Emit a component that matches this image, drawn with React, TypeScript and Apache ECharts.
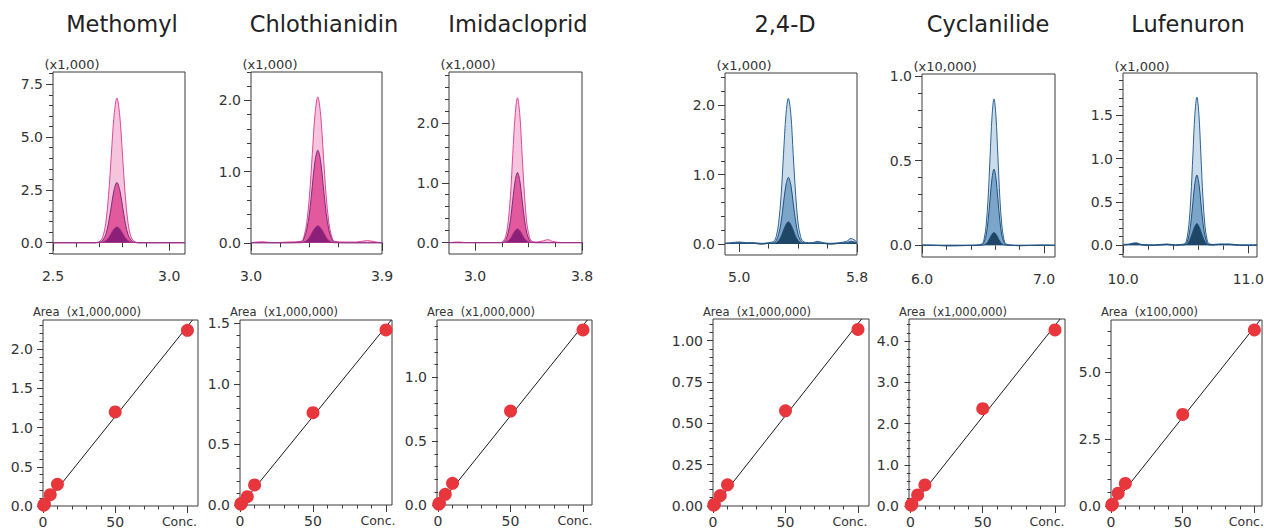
import React, { useEffect, useRef } from "react";
import * as echarts from "echarts";

// ---------------- DATA ----------------
const compounds = ["Methomyl", "Chlothianidin", "Imidacloprid", "2,4-D", "Cyclanilide", "Lufenuron"];

// Chromatograms: retention time (min) and intensity for three concentration levels
const methomylTime = [2.5, 2.6, 2.68, 2.703, 2.715, 2.727, 2.739, 2.751, 2.763, 2.775, 2.787, 2.799, 2.811, 2.823, 2.835, 2.847, 2.87, 2.95, 3.068];
const methomylHigh = [0, 0, 0, 0.08, 0.3, 0.92, 2.23, 4.16, 6.04, 6.85, 6.04, 4.16, 2.23, 0.92, 0.3, 0.08, 0, 0, 0];
const methomylMid = [0, 0, 0, 0.03, 0.13, 0.38, 0.93, 1.73, 2.51, 2.85, 2.51, 1.73, 0.93, 0.38, 0.13, 0.03, 0, 0, 0];
const methomylLow = [0, 0, 0, 0.01, 0.03, 0.1, 0.24, 0.46, 0.66, 0.75, 0.66, 0.46, 0.24, 0.1, 0.03, 0.01, 0, 0, 0];

const chlothianidinTime = [3.0, 3.08, 3.15, 3.25, 3.345, 3.364, 3.383, 3.402, 3.421, 3.44, 3.459, 3.478, 3.497, 3.516, 3.535, 3.554, 3.573, 3.65, 3.72, 3.8, 3.86, 3.9];
const chlothianidinHigh = [0, 0.015, 0, 0.01, 0.02, 0.09, 0.28, 0.67, 1.24, 1.81, 2.05, 1.81, 1.24, 0.67, 0.28, 0.09, 0.02, 0.01, 0.01, 0.03, 0.01, 0];
const chlothianidinMid = [0, 0, 0, 0, 0.01, 0.06, 0.18, 0.42, 0.79, 1.15, 1.3, 1.15, 0.79, 0.42, 0.18, 0.06, 0.01, 0, 0, 0, 0, 0];
const chlothianidinLow = [0, 0, 0, 0, 0, 0.01, 0.03, 0.08, 0.15, 0.21, 0.24, 0.21, 0.15, 0.08, 0.03, 0.01, 0, 0, 0, 0, 0, 0];

const imidaclopridTime = [2.805, 2.88, 2.93, 3.0, 3.1, 3.19, 3.212, 3.23, 3.247, 3.265, 3.282, 3.3, 3.317, 3.335, 3.352, 3.37, 3.387, 3.405, 3.422, 3.46, 3.51, 3.545, 3.58, 3.65, 3.8];
const imidaclopridHigh = [0, 0.01, 0, 0, 0, 0, 0.03, 0.11, 0.33, 0.79, 1.47, 2.13, 2.42, 2.13, 1.47, 0.79, 0.33, 0.11, 0.03, 0.01, 0.03, 0.05, 0.02, 0, 0];
const imidaclopridMid = [0, 0, 0, 0, 0, 0, 0.01, 0.05, 0.16, 0.38, 0.71, 1.03, 1.17, 1.03, 0.71, 0.38, 0.16, 0.05, 0.01, 0, 0, 0, 0, 0, 0];
const imidaclopridLow = [0, 0, 0, 0, 0, 0, 0, 0.01, 0.03, 0.07, 0.14, 0.2, 0.23, 0.2, 0.14, 0.07, 0.03, 0.01, 0, 0, 0, 0, 0, 0, 0];

const dTime = [4.904, 4.95, 5.0, 5.05, 5.1, 5.15, 5.2, 5.235, 5.252, 5.268, 5.285, 5.301, 5.318, 5.334, 5.351, 5.367, 5.384, 5.4, 5.417, 5.433, 5.47, 5.5, 5.53, 5.57, 5.62, 5.68, 5.73, 5.76, 5.78, 5.8];
const dHigh = [0.01, 0.02, 0.03, 0.02, 0.02, 0.01, 0.02, 0.04, 0.11, 0.3, 0.7, 1.29, 1.87, 2.1, 1.87, 1.29, 0.7, 0.3, 0.11, 0.04, 0.02, 0.02, 0.04, 0.02, 0.01, 0.02, 0.04, 0.08, 0.06, 0.03];
const dMid = [0.01, 0.01, 0.02, 0.01, 0.01, 0, 0.01, 0.02, 0.05, 0.14, 0.32, 0.59, 0.85, 0.96, 0.85, 0.59, 0.32, 0.14, 0.05, 0.02, 0.01, 0.01, 0.02, 0.01, 0, 0.01, 0.02, 0.04, 0.03, 0.02];
const dLow = [0.01, 0.01, 0.01, 0.01, 0.01, 0, 0.01, 0.01, 0.02, 0.05, 0.11, 0.2, 0.28, 0.32, 0.28, 0.2, 0.11, 0.05, 0.02, 0.01, 0.01, 0.01, 0.01, 0.01, 0, 0.01, 0.01, 0.02, 0.02, 0.01];

const cyclanilideTime = [6.0, 6.05, 6.12, 6.2, 6.3, 6.4, 6.45, 6.494, 6.51, 6.526, 6.542, 6.558, 6.574, 6.59, 6.606, 6.622, 6.638, 6.654, 6.67, 6.686, 6.73, 6.8, 6.9, 7.0, 7.09];
const cyclanilideHigh = [0.003, 0.002, 0, -0.004, -0.003, 0, 0.002, 0.01, 0.04, 0.12, 0.28, 0.525, 0.763, 0.865, 0.763, 0.525, 0.28, 0.12, 0.04, 0.01, 0.002, -0.003, 0, 0.002, 0];
const cyclanilideMid = [0, 0, 0, 0, 0, 0, 0, 0.005, 0.02, 0.06, 0.146, 0.273, 0.397, 0.45, 0.397, 0.273, 0.146, 0.06, 0.02, 0.005, 0, 0, 0, 0, 0];
const cyclanilideLow = [0, 0, 0, 0, 0, 0, 0, 0.001, 0.003, 0.01, 0.024, 0.046, 0.066, 0.075, 0.066, 0.046, 0.024, 0.01, 0.003, 0.001, 0, 0, 0, 0, 0];

const lufenuronTime = [10.0, 10.05, 10.1, 10.15, 10.25, 10.35, 10.42, 10.46, 10.494, 10.51, 10.526, 10.542, 10.558, 10.574, 10.59, 10.606, 10.622, 10.638, 10.654, 10.67, 10.686, 10.72, 10.77, 10.85, 10.93, 11.0, 11.07];
const lufenuronHigh = [0.01, 0.015, 0.03, 0.01, 0.005, 0.015, 0.005, 0.01, 0.02, 0.075, 0.23, 0.556, 1.04, 1.51, 1.71, 1.51, 1.04, 0.556, 0.23, 0.075, 0.02, 0.01, 0.015, 0.015, 0.005, 0.005, 0.005];
const lufenuronMid = [0.005, 0.01, 0.02, 0.005, 0, 0.01, 0, 0.005, 0.01, 0.035, 0.11, 0.263, 0.49, 0.714, 0.81, 0.714, 0.49, 0.263, 0.11, 0.035, 0.01, 0.005, 0.01, 0.01, 0, 0, 0];
const lufenuronLow = [0.005, 0.01, 0.02, 0.005, 0, 0.01, 0, 0.005, 0.005, 0.015, 0.045, 0.095, 0.16, 0.22, 0.25, 0.22, 0.16, 0.095, 0.045, 0.015, 0.005, 0.005, 0.01, 0.01, 0, 0, 0];

const chromTimes = [methomylTime, chlothianidinTime, imidaclopridTime, dTime, cyclanilideTime, lufenuronTime];
const chromHigh = [methomylHigh, chlothianidinHigh, imidaclopridHigh, dHigh, cyclanilideHigh, lufenuronHigh];
const chromMid = [methomylMid, chlothianidinMid, imidaclopridMid, dMid, cyclanilideMid, lufenuronMid];
const chromLow = [methomylLow, chlothianidinLow, imidaclopridLow, dLow, cyclanilideLow, lufenuronLow];

// Calibration curves
const calConc = [0.5, 1, 5, 10, 50, 100];
const methomylArea = [0.011, 0.022, 0.144, 0.276, 1.198, 2.239];
const chlothianidinArea = [0.007, 0.014, 0.069, 0.166, 0.762, 1.445];
const imidaclopridArea = [0.007, 0.014, 0.084, 0.17, 0.736, 1.371];
const dArea = [0.005, 0.011, 0.063, 0.128, 0.575, 1.067];
const cyclanilideArea = [0.021, 0.043, 0.268, 0.51, 2.36, 4.27];
const lufenuronArea = [0.033, 0.066, 0.475, 0.84, 3.41, 6.56];
const calAreas = [methomylArea, chlothianidinArea, imidaclopridArea, dArea, cyclanilideArea, lufenuronArea];

const methomylFit = [[0, -0.01], [103.5, 2.37]];
const chlothianidinFit = [[0, -0.01], [103.6, 1.527]];
const imidaclopridFit = [[0, -0.01], [103, 1.449]];
const dFit = [[0, -0.01], [102.5, 1.13]];
const cyclanilideFit = [[0, -0.04], [103.5, 4.536]];
const lufenuronFit = [[0, -0.05], [104, 6.93]];
const calFits = [methomylFit, chlothianidinFit, imidaclopridFit, dFit, cyclanilideFit, lufenuronFit];

// Tick labels
const timeMajorTicks = [[2.5, 3.0], [3.0, 3.9], [3.0, 3.8], [5.0, 5.8], [6.0, 7.0], [10.0, 11.0]];
const timeMinorTicks = [[2.6, 2.7, 2.8, 2.9], [3.2, 3.4, 3.6], [3.2, 3.4, 3.6], [5.2, 5.4, 5.6], [6.2, 6.4, 6.6, 6.8], [10.2, 10.4, 10.6, 10.8]];
const intensityTicks = [[0, 2.5, 5, 7.5], [0, 1, 2], [0, 1, 2], [0, 1, 2], [0, 0.5, 1], [0, 0.5, 1, 1.5]];
const intensityMinorStep = [0.5, 0.2, 0.2, 0.2, 0.1, 0.1];
const intensityScale = ["(x1,000)", "(x1,000)", "(x1,000)", "(x1,000)", "(x10,000)", "(x1,000)"];
const concTicks = [0, 50, 100];
const concMinorTicks = [10, 20, 30, 40, 60, 70, 80, 90];
const areaTicks = [[0, 0.5, 1, 1.5, 2], [0, 0.5, 1, 1.5], [0, 0.5, 1], [0, 0.25, 0.5, 0.75, 1], [0, 1, 2, 3, 4], [0, 2.5, 5]];
const areaMinorStep = [0.1, 0.1, 0.1, 0.05, 0.2, 0.5];
const areaDecimals = [1, 1, 1, 2, 1, 1];
const areaScale = ["(x1,000,000)", "(x1,000,000)", "(x1,000,000)", "(x1,000,000)", "(x1,000,000)", "(x100,000)"];

// ---------------- LAYOUT ----------------
const titleX = [122, 324, 518, 785, 988, 1188];
const topBoxes = [
  { l: 53, t: 72, w: 132, h: 182, x0: 2.5, x1: 3.068, y0: -0.534, y1: 8.08, ny: 64 },
  { l: 251, t: 72, w: 131, h: 182, x0: 3.0, x1: 3.9, y0: -0.158, y1: 2.4, ny: 64 },
  { l: 449, t: 72, w: 133, h: 182, x0: 2.805, x1: 3.8, y0: -0.19, y1: 2.85, ny: 64 },
  { l: 725, t: 73, w: 132, h: 182, x0: 4.904, x1: 5.8, y0: -0.158, y1: 2.465, ny: 65 },
  { l: 922, t: 74, w: 133, h: 183, x0: 6.0, x1: 7.09, y0: -0.069, y1: 1.012, ny: 66.5 },
  { l: 1123, t: 73, w: 134, h: 184, x0: 10.0, x1: 11.07, y0: -0.135, y1: 1.987, ny: 66.5 },
];
const bottomBoxes = [
  { l: 43, t: 320, w: 155, h: 186, x0: 0, x1: 107.3, y0: 0, y1: 2.37 },
  { l: 240, t: 320, w: 152, h: 185, x0: 0, x1: 104.1, y0: 0, y1: 1.527 },
  { l: 437, t: 320, w: 155, h: 185, x0: -0.7, x1: 106.2, y0: 0, y1: 1.449 },
  { l: 713, t: 319, w: 156, h: 187, x0: 0, x1: 107.6, y0: 0, y1: 1.13 },
  { l: 909, t: 319, w: 156, h: 187, x0: -1, x1: 106.9, y0: 0, y1: 4.536 },
  { l: 1111, t: 320, w: 151, h: 186, x0: 0, x1: 105.3, y0: 0, y1: 6.93 },
];

const FONT = "DejaVu Sans";
const TXT = "#333333";
const FRAME = "#3a3a3a";

const pink = { hf: "#f4c5dd", hl: "#e0479a", mf: "#e2599d", ml: "#7d2b7c", lf: "#8c2078", ll: "#a2338b" };
const blue = { hf: "#cadcea", hl: "#2b6394", mf: "#7ca6c9", ml: "#22507c", lf: "#1f4667", ll: "#245179" };

function minorValues(min: number, max: number, step: number, major: number[]) {
  const out: number[] = [];
  const start = Math.ceil(min / step - 1e-9);
  const end = Math.floor(max / step + 1e-9);
  for (let k = start; k <= end; k++) {
    const v = Math.round(k * step * 10000) / 10000;
    if (!major.some((m) => Math.abs(m - v) < 1e-9)) out.push(v);
  }
  return out;
}

function buildOption() {
  const grid: any[] = [];
  const xAxis: any[] = [];
  const yAxis: any[] = [];
  const series: any[] = [];
  const graphic: any[] = [];

  const addGrid = (b: any) => {
    grid.push({
      left: b.l, top: b.t, width: b.w, height: b.h, show: true,
      borderColor: FRAME, borderWidth: 1, backgroundColor: "transparent",
      containLabel: false, outerBoundsMode: "none",
    });
    return grid.length - 1;
  };

  const xAx = (gi: number, b: any, ticks: number[], offset: number, len: number, label: any) => ({
    type: "value", gridIndex: gi, position: "bottom", offset, min: b.x0, max: b.x1,
    axisLine: { show: false }, splitLine: { show: false }, minorTick: { show: false },
    axisTick: { show: true, customValues: ticks, length: len, lineStyle: { color: FRAME, width: 1 } },
    axisLabel: label ? { show: true, customValues: ticks, fontFamily: FONT, fontSize: 14, color: TXT, ...label } : { show: false },
  });
  const yAx = (gi: number, b: any, ticks: number[], len: number, label: any) => ({
    type: "value", gridIndex: gi, position: "left", offset: 0, min: b.y0, max: b.y1,
    axisLine: { show: false }, splitLine: { show: false }, minorTick: { show: false },
    axisTick: { show: true, customValues: ticks, length: len, lineStyle: { color: FRAME, width: 1 } },
    axisLabel: label ? { show: true, customValues: ticks, fontFamily: FONT, fontSize: 14, color: TXT, margin: 10, ...label } : { show: false },
  });

  compounds.forEach((name, i) => {
    // ---- chromatogram ----
    const b = topBoxes[i];
    const gi = addGrid(b);
    const xi = xAxis.length;
    xAxis.push(xAx(gi, b, timeMajorTicks[i], 2, 8, { margin: 13, formatter: (v: number) => v.toFixed(1) }));
    xAxis.push(xAx(gi, b, timeMinorTicks[i], 2, 4.5, null));
    const yi = yAxis.length;
    yAxis.push(yAx(gi, b, intensityTicks[i], 7, { formatter: (v: number) => v.toFixed(1) }));
    yAxis.push(yAx(gi, b, minorValues(b.y0, b.y1, intensityMinorStep[i], intensityTicks[i]), 4, null));
    const c = i < 3 ? pink : blue;
    const t = chromTimes[i];
    const levels: any[] = [
      [chromHigh[i], c.hf, c.hl],
      [chromMid[i], c.mf, c.ml],
      [chromLow[i], c.lf, c.ll],
    ];
    levels.forEach(([vals, fill, line]) => {
      series.push({
        type: "line", xAxisIndex: xi, yAxisIndex: yi,
        data: t.map((x: number, k: number) => [x, vals[k]]),
        showSymbol: false, symbol: "none", smooth: 0.35, clip: true, silent: true,
        lineStyle: { color: line, width: 1 },
        areaStyle: { color: fill, opacity: 1 },
      });
    });
    graphic.push({
      type: "text", x: titleX[i], y: 24, z: 10,
      style: { text: name, fill: "#222222", font: `22.5px "${FONT}"`, align: "center", verticalAlign: "middle" },
    });
    graphic.push({
      type: "text", x: b.l - 8.5, y: b.ny, z: 10,
      style: { text: intensityScale[i], fill: TXT, font: `13px "${FONT}"`, align: "left", verticalAlign: "middle" },
    });

    // ---- calibration ----
    const bb = bottomBoxes[i];
    const gj = addGrid(bb);
    const xj = xAxis.length;
    xAxis.push(xAx(gj, bb, concTicks, 1.5, 7, {
      margin: 7,
      formatter: (v: number) => (v === 100 ? "{c|Conc.}" : String(v)),
      rich: { c: { fontFamily: FONT, fontSize: 12.5, color: TXT, padding: [0, 16, 0, 0] } },
    }));
    xAxis.push(xAx(gj, bb, concMinorTicks, 1.5, 3.5, null));
    const yj = yAxis.length;
    const dec = areaDecimals[i];
    yAxis.push(yAx(gj, bb, areaTicks[i], 6, { formatter: (v: number) => v.toFixed(dec) }));
    yAxis.push(yAx(gj, bb, minorValues(bb.y0, bb.y1, areaMinorStep[i], areaTicks[i]), 3.5, null));
    series.push({
      type: "line", xAxisIndex: xj, yAxisIndex: yj, data: calFits[i],
      showSymbol: false, symbol: "none", clip: true, silent: true, z: 3,
      lineStyle: { color: "#1a1a1a", width: 1 },
    });
    series.push({
      type: "scatter", xAxisIndex: xj, yAxisIndex: yj,
      data: calConc.map((cc, k) => [cc, calAreas[i][k]]),
      symbol: "circle", symbolSize: 13, clip: false, silent: true, z: 4,
      itemStyle: { color: "#e8363d", opacity: 1 },
    });
    graphic.push({
      type: "text", x: bb.l - 10, y: 311.5, z: 10,
      style: { text: "Area  " + areaScale[i], fill: TXT, font: `11.5px "${FONT}"`, align: "left", verticalAlign: "middle" },
    });
  });

  return {
    animation: false,
    backgroundColor: "#ffffff",
    textStyle: { fontFamily: FONT },
    grid, xAxis, yAxis, series, graphic,
  };
}

export default function App() {
  const ref = useRef<HTMLDivElement>(null);
  useEffect(() => {
    if (!ref.current) return;
    const chart = echarts.init(ref.current, undefined, { renderer: "svg" });
    chart.setOption(buildOption() as any);
    return () => chart.dispose();
  }, []);
  return (
    <div
      ref={ref}
      style={{ position: "absolute", left: 0, top: 0, width: 1264, height: 530, background: "#fff" }}
    />
  );
}
